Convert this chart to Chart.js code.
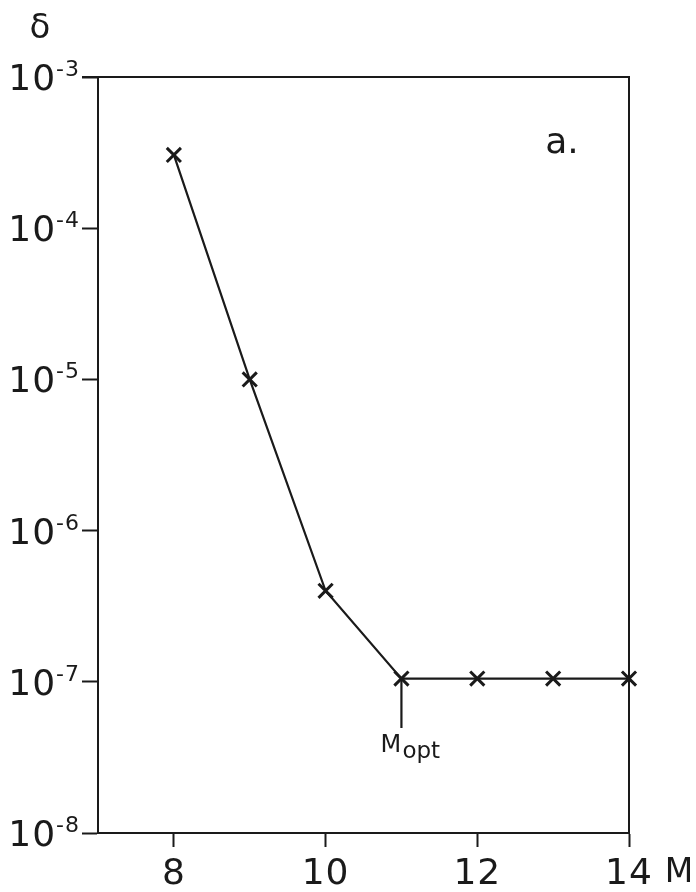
<!DOCTYPE html>
<html>
<head>
<meta charset="utf-8">
<script src="https://cdn.jsdelivr.net/npm/chart.js@4"></script>
<style>
  html, body { margin:0; padding:0; background:#fff; }
  #wrap { position:relative; width:696px; height:892px; }
</style>
</head>
<body>
<div id="wrap"><canvas id="chart" width="696" height="892"></canvas></div>
<script>
    // ─── Data ───────────────────────────────────────────────────────────
    const mVals     = [8, 9, 10, 11, 12, 13, 14];
    const deltaVals = [3.05e-4, 1.0e-5, 4.0e-7, 1.05e-7, 1.05e-7, 1.05e-7, 1.05e-7];
    const xTicks    = [8, 10, 12, 14];
    const yTicks    = [1e-8, 1e-7, 1e-6, 1e-5, 1e-4, 1e-3];
    const yExps     = ['-8', '-7', '-6', '-5', '-4', '-3'];
    const mOptX     = [11, 11];
    const mOptY     = [1.05e-7, 4.95e-8];

    const INK = '#1a1a1a';
    const FONT = '"DejaVu Sans", sans-serif';

    // a touch wider spacing for the tick numbers
    const spacingPlugin = {
        id: 'spacing',
        beforeDraw(chart) { chart.ctx.letterSpacing = '1px'; },
        beforeDatasetsDraw(chart) { chart.ctx.letterSpacing = '0px'; }
    };

    // custom labels: 10^n ticks, axis names, panel tag, M_opt
    const textPlugin = {
        id: 'texts',
        afterDraw(chart) {
            const ctx = chart.ctx;
            const ys = chart.scales.y, xs = chart.scales.x;
            const a = chart.chartArea;
            ctx.save();
            ctx.fillStyle = INK;
            ctx.strokeStyle = INK;

            // frame top + right
            ctx.lineWidth = 2;
            ctx.beginPath();
            ctx.moveTo(a.left - 16, a.top);
            ctx.lineTo(a.right, a.top);
            ctx.lineTo(a.right, a.bottom);
            ctx.stroke();

            // y tick labels 10^n
            ctx.textBaseline = 'alphabetic';
            yTicks.forEach((v, i) => {
                const y = ys.getPixelForValue(v);
                const xr = a.left - 18;
                ctx.letterSpacing = '1px';
                ctx.font = '22px ' + FONT;
                ctx.textAlign = 'right';
                ctx.fillText(yExps[i], xr, y - 1);
                const ew = ctx.measureText(yExps[i]).width;
                ctx.font = '36px ' + FONT;
                ctx.fillText('10', xr - ew, y + 13);
            });
            ctx.letterSpacing = '0px';

            // axis names
            ctx.textAlign = 'center';
            ctx.font = '34px ' + FONT;
            ctx.fillText('δ', 40, 38);
            ctx.font = '33px ' + FONT;
            ctx.fillText('M', 679, 882);
            ctx.font = '36px ' + FONT;
            ctx.fillText('a.', 562, 153);

            // M_opt
            const px = xs.getPixelForValue(11);
            const py = ys.getPixelForValue(mOptY[1]);
            ctx.textAlign = 'left';
            ctx.font = '24px ' + FONT;
            ctx.fillText('M', px - 21, py + 24);
            ctx.font = '23px ' + FONT;
            ctx.fillText('opt', px + 1, py + 30);
            ctx.restore();
        }
    };

    new Chart(document.getElementById('chart'), {
        type: 'line',
        data: {
            datasets: [
                {
                    data: mVals.map((m, i) => ({ x: m, y: deltaVals[i] })),
                    borderColor: INK, borderWidth: 2.2,
                    pointStyle: 'crossRot', pointRadius: 10,
                    pointBorderWidth: 3, pointBorderColor: INK,
                    fill: false, tension: 0, clip: false
                },
                {
                    data: mOptX.map((m, i) => ({ x: m, y: mOptY[i] })),
                    borderColor: INK, borderWidth: 2.2,
                    pointRadius: 0, fill: false, clip: false
                }
            ]
        },
        options: {
            responsive: false, animation: false,
            layout: { padding: { top: 77, right: 67, left: 0, bottom: 0 } },
            plugins: { legend: { display: false }, tooltip: { enabled: false } },
            scales: {
                x: {
                    type: 'linear', min: 7, max: 14,
                    afterBuildTicks: s => { s.ticks = xTicks.map(v => ({ value: v })); },
                    afterFit: s => { s.height = 59; },
                    ticks: { color: INK, font: { family: FONT, size: 36 }, padding: 6, maxRotation: 0 },
                    grid: { drawOnChartArea: false, drawTicks: true, tickLength: 14, color: INK, tickWidth: 2 },
                    border: { display: true, color: INK, width: 2 }
                },
                y: {
                    type: 'logarithmic', min: 1e-8, max: 1e-3,
                    afterBuildTicks: s => { s.ticks = yTicks.map(v => ({ value: v })); },
                    afterFit: s => { s.width = 98; },
                    ticks: { display: false },
                    grid: { drawOnChartArea: false, drawTicks: true, tickLength: 16, color: INK, tickWidth: 2 },
                    border: { display: true, color: INK, width: 2 }
                }
            }
        },
        plugins: [spacingPlugin, textPlugin]
    });
</script>
</body>
</html>
